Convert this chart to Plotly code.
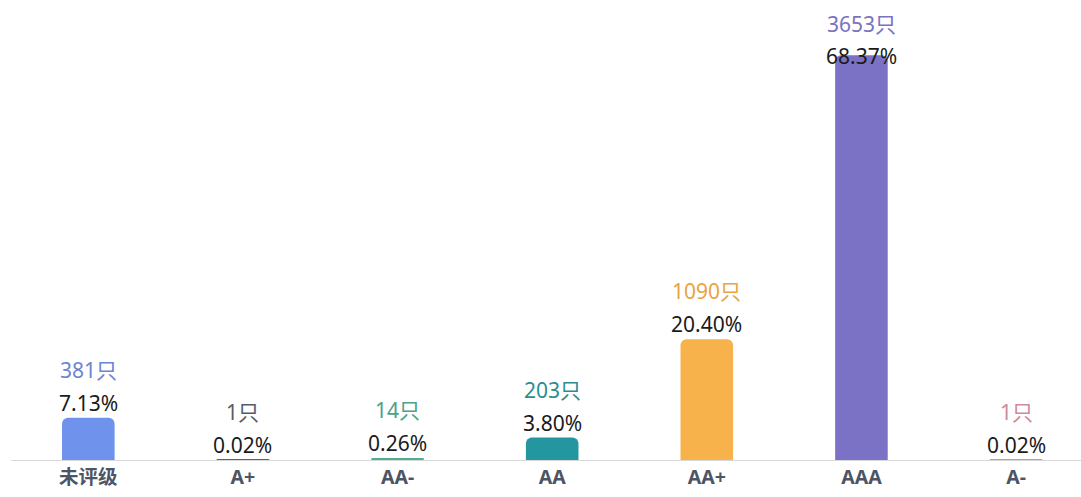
import plotly.graph_objects as go

categories = ["未评级", "A+", "AA-", "AA", "AA+", "AAA", "A-"]
counts = [381, 1, 14, 203, 1090, 3653, 1]
percents = ["7.13%", "0.02%", "0.26%", "3.80%", "20.40%", "68.37%", "0.02%"]
bar_colors = ["#6f93ec", "#5b6477", "#4fae8e", "#23969f", "#f7b24c", "#7b72c6", "#d98ea0"]
label_colors = ["#6a86d2", "#545d70", "#4fa08a", "#2a8d94", "#e8a443", "#7b72c0", "#cf8a9c"]

W, H = 1081, 497
MT, MB, ML, MR = 20, 37, 11, 0
YMAX = 3970
plot_h = H - MT - MB
scale = plot_h / YMAX
base_px = H - MB

fig = go.Figure()
fig.add_trace(go.Bar(
    x=categories, y=counts,
    marker=dict(color=bar_colors, cornerradius=6, line=dict(width=0)),
    width=0.34, hoverinfo="skip",
))

font_family = "Noto Sans, Noto Sans CJK SC, sans-serif"
for i, (c, v, p) in enumerate(zip(categories, counts, percents)):
    top_px = base_px - v * scale
    pct_center = max(top_px - 15, 56)
    cnt_center = max(top_px - 48, 24)
    for txt, center, col in ((p, pct_center, "#1a1a1a"), (f"{v}只", cnt_center, label_colors[i])):
        fig.add_annotation(
            x=c, y=0, xref="x", yref="y",
            text=txt, showarrow=False, yanchor="middle",
            yshift=base_px - center,
            font=dict(size=21, color=col, family=font_family),
        )

fig.update_layout(
    width=W, height=H,
    margin=dict(t=MT, b=MB, l=ML, r=MR, pad=0),
    paper_bgcolor="white", plot_bgcolor="white",
    showlegend=False,
    xaxis=dict(
        range=[-0.5, 6.42], showgrid=False, showline=True, linecolor="#d9d9d9", linewidth=1,
        ticks="", tickfont=dict(size=19.5, color="#4d5564", family="Noto Sans, Noto Sans CJK SC, sans-serif", weight="bold"),
        fixedrange=True,
    ),
    yaxis=dict(range=[0, YMAX], visible=False, showgrid=False, zeroline=False, fixedrange=True),
)

fig.write_html("out.html", config={"displayModeBar": False})
